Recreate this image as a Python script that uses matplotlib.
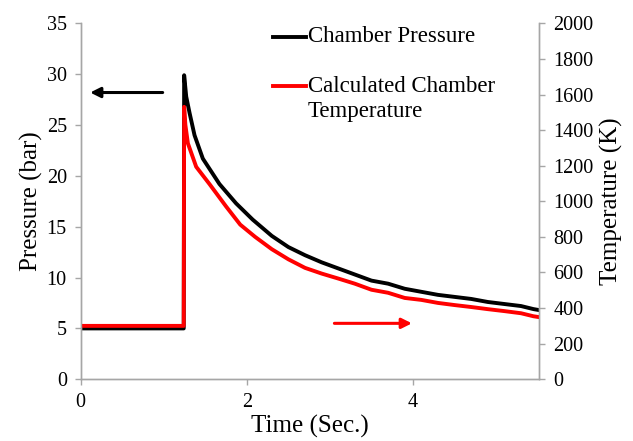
import matplotlib
matplotlib.use('Agg')
import matplotlib.pyplot as plt
from matplotlib.lines import Line2D

plt.rcParams['font.family'] = ['Liberation Serif', 'DejaVu Serif']

# chamber pressure (bar)
t_p = [0, 1.24, 1.245, 1.27, 1.31, 1.37, 1.47, 1.67, 1.87, 2.07, 2.3, 2.5, 2.7, 2.9,
       3.1, 3.3, 3.5, 3.7, 3.9, 4.1, 4.3, 4.5, 4.7, 4.9, 5.1, 5.3, 5.45, 5.52]
pressure = [5.0, 5.0, 29.9, 27.8, 26.2, 24.0, 21.7, 19.2, 17.3, 15.7, 14.1, 13.0, 12.2, 11.5,
            10.9, 10.3, 9.7, 9.4, 8.9, 8.6, 8.3, 8.1, 7.9, 7.6, 7.4, 7.2, 6.9, 6.8]

# calculated chamber temperature (K)
t_T = [0, 1.24, 1.245, 1.26, 1.29, 1.39, 1.55, 1.75, 1.92, 2.1, 2.3, 2.5, 2.7, 2.9,
       3.1, 3.3, 3.5, 3.7, 3.9, 4.1, 4.3, 4.5, 4.7, 4.9, 5.1, 5.3, 5.45, 5.52]
temperature = [300, 300, 1531, 1429, 1326, 1194, 1097, 971, 869, 800, 731, 674, 626, 594,
               566, 537, 503, 486, 457, 446, 429, 417, 406, 394, 383, 371, 354, 349]

fig = plt.figure(figsize=(6.33, 4.41), dpi=100)
ax = fig.add_axes([0.1275, 0.140, 0.7245, 0.807])
ax2 = ax.twinx()

ax.plot(t_p, pressure, color='black', lw=2.8, solid_joinstyle='round')
ax2.plot(t_T, temperature, color='red', lw=2.8, solid_joinstyle='round')

ax.set_xlim(0, 5.52)
ax.set_ylim(0, 35)
ax2.set_ylim(0, 2000)
ax.set_xticks([0, 2, 4])
ax.set_yticks(range(0, 36, 5))
ax2.set_yticks(range(0, 2001, 200))

gray = '#a6a6a6'
for a in (ax, ax2):
    a.spines['top'].set_visible(False)
    for s in ('left', 'right', 'bottom'):
        a.spines[s].set_color(gray)
        a.spines[s].set_linewidth(1.0)
    a.tick_params(colors=gray, labelcolor='black', labelsize=14.5, length=4, width=1.0, pad=6)

ax.set_xlabel('Time (Sec.)', fontsize=18, labelpad=2)
ax.set_ylabel('Pressure (bar)', fontsize=18, labelpad=3)
ax2.set_ylabel('Temperature (K)', fontsize=18, labelpad=5)

# arrows pointing to each axis
ax.annotate('', xy=(0.08, 28.2), xytext=(1.02, 28.2),
            arrowprops=dict(arrowstyle='-|>', color='black', lw=2.2, mutation_scale=15))
ax.annotate('', xy=(4.02, 5.5), xytext=(3.02, 5.5),
            arrowprops=dict(arrowstyle='-|>', color='red', lw=2.2, mutation_scale=15))

# legend
fig.add_artist(Line2D([273 / 633, 306 / 633], [1 - 37 / 441, 1 - 37 / 441], color='black', lw=2.8))
fig.text(308 / 633, 1 - 37 / 441, 'Chamber Pressure', fontsize=16.5, va='center', ha='left')
fig.add_artist(Line2D([273 / 633, 306 / 633], [1 - 86 / 441, 1 - 86 / 441], color='red', lw=2.8))
fig.text(308 / 633, 1 - 86 / 441, 'Calculated Chamber', fontsize=16.5, va='center', ha='left')
fig.text(308 / 633, 1 - 111 / 441, 'Temperature', fontsize=16.5, va='center', ha='left')

fig.savefig('out.png', dpi=100)
